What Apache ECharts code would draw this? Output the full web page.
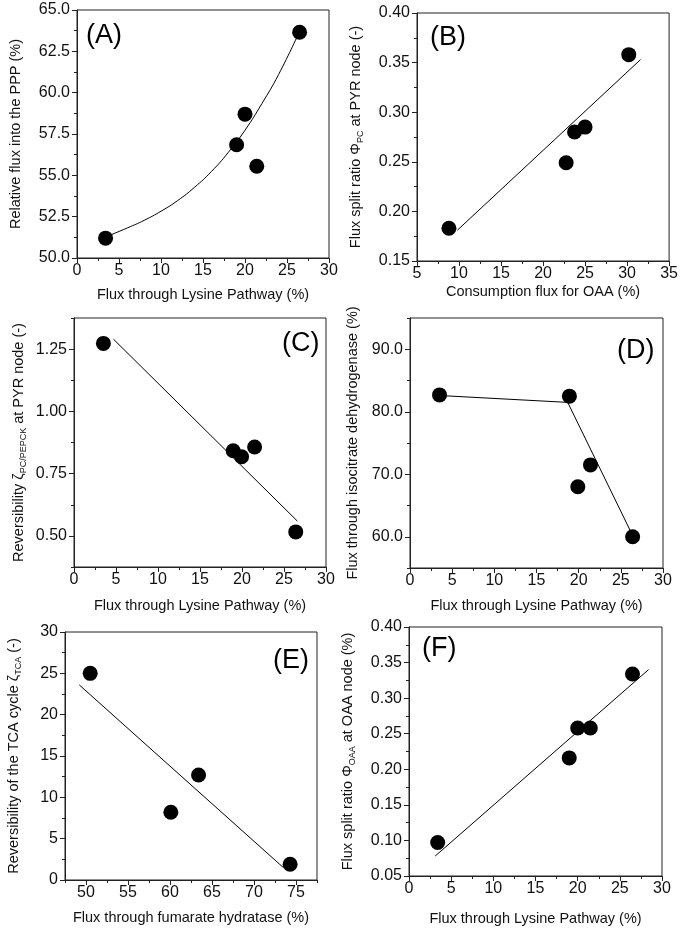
<!DOCTYPE html>
<html>
<head>
<meta charset="utf-8">
<script src="https://cdn.jsdelivr.net/npm/echarts@6/dist/echarts.min.js"></script>
<style>
html,body{margin:0;padding:0;background:#fff;}
#chart{width:681px;height:931px;}
</style>
</head>
<body>
<div id="chart"></div>
<script>
// ---------- Panel A ----------
const aX = [3.4, 19.0, 20.0, 21.4, 26.5];
const aY = [51.2, 56.85, 58.7, 55.55, 63.65];
const aFitX = [3.3, 6, 8, 10, 12, 14, 16, 18, 20, 22, 24, 26.4];
const aFitY = [51.25, 51.82, 52.28, 52.83, 53.48, 54.28, 55.23, 56.38, 57.73, 59.33, 61.1, 63.6];
const aXTicks = [0, 5, 10, 15, 20, 25, 30];
const aYTicks = [50, 52.5, 55, 57.5, 60, 62.5, 65];

// ---------- Panel B ----------
const bX = [8.8, 22.75, 23.75, 25.0, 30.2];
const bY = [0.183, 0.249, 0.280, 0.285, 0.358];
const bFitX = [9.8, 31.6];
const bFitY = [0.181, 0.353];
const bXTicks = [5, 10, 15, 20, 25, 30, 35];
const bYTicks = [0.15, 0.20, 0.25, 0.30, 0.35, 0.40];

// ---------- Panel C ----------
const cX = [3.5, 18.95, 19.95, 21.5, 26.4];
const cY = [1.273, 0.842, 0.818, 0.857, 0.516];
const cFitX = [4.7, 26.6];
const cFitY = [1.29, 0.559];
const cXTicks = [0, 5, 10, 15, 20, 25, 30];
const cYTicks = [0.50, 0.75, 1.00, 1.25];

// ---------- Panel D ----------
const dX = [3.5, 18.9, 19.9, 21.4, 26.4];
const dY = [82.7, 82.5, 68.0, 71.5, 60.0];
const dFitX = [3.5, 18.7, 26.4];
const dFitY = [82.6, 81.5, 60.2];
const dXTicks = [0, 5, 10, 15, 20, 25, 30];
const dYTicks = [60, 70, 80, 90];

// ---------- Panel E ----------
const eX = [50.5, 60.1, 63.4, 74.3];
const eY = [25.0, 8.2, 12.7, 1.9];
const eFitX = [49.2, 73.5];
const eFitY = [23.6, 1.5];
const eXTicks = [50, 55, 60, 65, 70, 75];
const eYTicks = [0, 5, 10, 15, 20, 25, 30];

// ---------- Panel F ----------
const fX = [3.4, 19.0, 20.0, 21.5, 26.5];
const fY = [0.097, 0.216, 0.258, 0.258, 0.334];
const fFitX = [3.1, 28.4];
const fFitY = [0.078, 0.340];
const fXTicks = [0, 5, 10, 15, 20, 25, 30];
const fYTicks = [0.05, 0.10, 0.15, 0.20, 0.25, 0.30, 0.35, 0.40];

const FONT = '"Liberation Sans", Arial, Helvetica, sans-serif';
const INK = '#111';

function minorsOf(ticks, min, max) {
  const step = ticks[1] - ticks[0];
  const out = [];
  for (let i = 0; i < ticks.length; i++) {
    [ticks[i] - step / 2, ticks[i] + step / 2].forEach(v => {
      if (v >= min - 1e-9 && v <= max + 1e-9 && !out.some(o => Math.abs(o - v) < 1e-9)) out.push(+v.toFixed(6));
    });
  }
  return out;
}

const panels = [
  { grid: {left: 77, top: 10, width: 252, height: 248},
    x: {min: 0, max: 30, ticks: aXTicks, dec: 0, name: 'Flux through Lysine Pathway (%)', gap: 28},
    y: {min: 50, max: 65, ticks: aYTicks, dec: 1, name: 'Relative flux into the PPP (%)', gap: 52},
    px: aX, py: aY, fx: aFitX, fy: aFitY, smooth: true },
  { grid: {left: 417, top: 13, width: 253, height: 248},
    x: {min: 5, max: 35, ticks: bXTicks, dec: 0, name: 'Consumption flux for OAA (%)', gap: 22},
    y: {min: 0.15, max: 0.40, ticks: bYTicks, dec: 2, name: 'Flux split ratio Φ{sub|PC} at PYR node (-)', gap: 52},
    px: bX, py: bY, fx: bFitX, fy: bFitY },
  { grid: {left: 74, top: 318, width: 252, height: 249},
    x: {min: 0, max: 30, ticks: cXTicks, dec: 0, name: 'Flux through Lysine Pathway (%)', gap: 30},
    y: {min: 0.375, max: 1.375, ticks: cYTicks, dec: 2, name: 'Reversibility ζ{sub|PC/PEPCK} at PYR node (-)', gap: 46},
    px: cX, py: cY, fx: cFitX, fy: cFitY },
  { grid: {left: 410, top: 318, width: 253, height: 250},
    x: {min: 0, max: 30, ticks: dXTicks, dec: 0, name: 'Flux through Lysine Pathway (%)', gap: 29},
    y: {min: 55, max: 95, ticks: dYTicks, dec: 1, name: 'Flux through isocitrate dehydrogenase (%)', gap: 48},
    px: dX, py: dY, fx: dFitX, fy: dFitY },
  { grid: {left: 65, top: 632, width: 252, height: 248},
    x: {min: 47.5, max: 77.5, ticks: eXTicks, dec: 0, name: 'Flux through fumarate hydratase (%)', gap: 29},
    y: {min: 0, max: 30, ticks: eYTicks, dec: 0, name: 'Reversibility of the TCA cycle ζ{sub|TCA} (-)', gap: 42},
    px: eX, py: eY, fx: eFitX, fy: eFitY },
  { grid: {left: 409, top: 627, width: 253, height: 249},
    x: {min: 0, max: 30, ticks: fXTicks, dec: 0, name: 'Flux through Lysine Pathway (%)', gap: 34},
    y: {min: 0.05, max: 0.40, ticks: fYTicks, dec: 2, name: 'Flux split ratio Φ{sub|OAA} at OAA node (%)', gap: 52},
    px: fX, py: fY, fx: fFitX, fy: fFitY }
];

const grids = [], xAxes = [], yAxes = [], series = [];
const nameStyle = {
  fontFamily: FONT, fontSize: 14.5, color: INK, lineHeight: 18,
  rich: { sub: { fontFamily: FONT, fontSize: 9, color: INK, verticalAlign: 'bottom', lineHeight: 18 } }
};

function makeAxes(gi, cfg, isX) {
  const pos = isX ? 'bottom' : 'left';
  const main = {
    type: 'value', gridIndex: gi, position: pos, min: cfg.min, max: cfg.max,
    axisLine: {show: true, onZero: false, lineStyle: {color: '#222', width: 1}},
    axisTick: {show: true, customValues: cfg.ticks, length: 5, lineStyle: {color: '#222', width: 1}},
    axisLabel: {customValues: cfg.ticks, formatter: v => Number(v).toFixed(cfg.dec),
      fontFamily: FONT, fontSize: 16, color: INK, margin: isX ? 5 : 7, showMinLabel: true, showMaxLabel: true},
    splitLine: {show: false},
    name: cfg.name, nameLocation: 'middle', nameGap: cfg.gap, nameTextStyle: nameStyle
  };
  const minor = {
    type: 'value', gridIndex: gi, position: pos, min: cfg.min, max: cfg.max,
    axisLine: {show: false, onZero: false},
    axisTick: {show: true, customValues: minorsOf(cfg.ticks, cfg.min, cfg.max), length: 3, lineStyle: {color: '#222', width: 1}},
    axisLabel: {show: false},
    splitLine: {show: false}
  };
  return [main, minor];
}

panels.forEach((p, i) => {
  grids.push(Object.assign({show: true, borderColor: '#222', borderWidth: 1, backgroundColor: 'transparent'}, p.grid));
  const xs = makeAxes(i, p.x, true);
  const ys = makeAxes(i, p.y, false);
  const xi = xAxes.length, yi = yAxes.length;
  xAxes.push(xs[0], xs[1]);
  yAxes.push(ys[0], ys[1]);
  series.push({
    type: 'line', xAxisIndex: xi, yAxisIndex: yi,
    data: p.fx.map((v, k) => [v, p.fy[k]]),
    showSymbol: false, smooth: p.smooth ? 0.5 : false, z: 2,
    lineStyle: {color: '#000', width: 1}, silent: true, animation: false
  });
  series.push({
    type: 'scatter', xAxisIndex: xi, yAxisIndex: yi,
    data: p.px.map((v, k) => [v, p.py[k]]),
    symbol: 'circle', symbolSize: 15, z: 3,
    itemStyle: {color: '#000', opacity: 1}, animation: false
  });
});

const labelFont = '27px ' + FONT;
const graphic = [
  {type: 'text', left: 86, top: 22, style: {text: '(A)', font: labelFont, fill: '#000'}},
  {type: 'text', left: 430, top: 24, style: {text: '(B)', font: labelFont, fill: '#000'}},
  {type: 'text', left: 282, top: 330, style: {text: '(C)', font: labelFont, fill: '#000'}},
  {type: 'text', left: 617, top: 337, style: {text: '(D)', font: labelFont, fill: '#000'}},
  {type: 'text', left: 273, top: 647, style: {text: '(E)', font: labelFont, fill: '#000'}},
  {type: 'text', left: 422, top: 635, style: {text: '(F)', font: labelFont, fill: '#000'}}
];

const chart = echarts.init(document.getElementById('chart'), null, {renderer: 'canvas'});
chart.setOption({
  backgroundColor: '#fff',
  animation: false,
  grid: grids,
  xAxis: xAxes,
  yAxis: yAxes,
  series: series,
  graphic: graphic
});
</script>
</body>
</html>
